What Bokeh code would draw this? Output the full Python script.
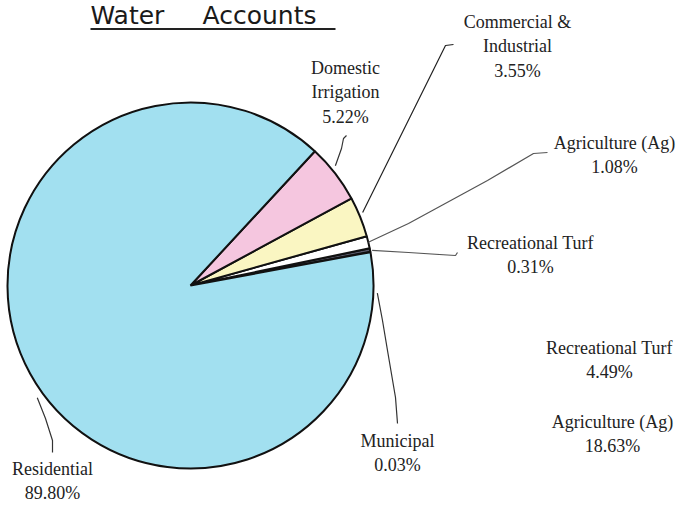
import math
from bokeh.plotting import figure
from bokeh.models import Range1d, ColumnDataSource
from bokeh.core.properties import value
from bokeh.embed import file_html
from bokeh.resources import INLINE

# ---------------- data ----------------
categories = ["Municipal", "Recreational Turf", "Agriculture (Ag)",
              "Commercial & Industrial", "Domestic Irrigation", "Residential"]
shares = [0.03, 0.31, 1.08, 3.55, 5.22, 89.80]
pct_labels = ["0.03%", "0.31%", "1.08%", "3.55%", "5.22%", "89.80%"]
label_lines = [["Municipal"], ["Recreational Turf"], ["Agriculture (Ag)"],
               ["Commercial &", "Industrial"], ["Domestic", "Irrigation"], ["Residential"]]
title_words = ["Water", "Accounts"]
# labels of a neighbouring chart at the right edge
other_categories = ["Recreational Turf", "Agriculture (Ag)"]
other_pct_labels = ["4.49%", "18.63%"]

# ---------------- style / layout ----------------
W, H = 680, 506
colors = ["#5a5a6a", "#5a5a6a", "#ffffff", "#faf6c2", "#f5c6df", "#a2e0f0"]
CX, CY, R = 190, H - 285, 183
START = math.radians(10.5)

def py(y):  # pixel-from-top -> data y
    return H - y

p = figure(width=W, height=H, x_range=Range1d(0, W), y_range=Range1d(0, H),
           output_backend="svg", toolbar_location=None,
           x_axis_location=None, y_axis_location=None, min_border=0)
p.grid.visible = False
p.outline_line_color = None
p.background_fill_color = "white"
p.border_fill_color = "white"

# wedges
total = sum(shares)
starts, ends = [], []
a = START
for s in shares:
    starts.append(a)
    a += s / total * 2 * math.pi
    ends.append(a)
src = ColumnDataSource(dict(cat=categories, start=starts, end=ends, color=colors))
p.wedge(x=CX, y=CY, radius=R, start_angle="start", end_angle="end",
        fill_color="color", line_color="#111111", line_width=2, source=src)

# leader lines: anchor on the pie from slice angle (+ layout offset), then bends
anchor_offset_deg = [-12.9, -0.2, 0.0, 1.0, 1.8, 7.4]
anchor_r = [187, 185, 183, 187, 188, 190]
bends = [
    [(382, 320), (387, 350), (395, 397), (397, 423)],
    [(408, 252), (455, 255), (457, 252)],
    [(408, 223), (487, 180), (533, 153), (547, 152)],
    [(445, 45), (453, 44)],
    [(341, 148), (343, 138), (346, 135)],
    [(45, 418), (52, 440), (52, 452)],
]
leader_colors = ["#333333", "#555555", "#555555", "#222222", "#333333", "#333333"]
for i in range(len(categories)):
    mid = (starts[i] + ends[i]) / 2 + math.radians(anchor_offset_deg[i])
    ax = CX + anchor_r[i] * math.cos(mid)
    ay = CY + anchor_r[i] * math.sin(mid)
    xs = [ax] + [b[0] for b in bends[i]]
    ys = [ay] + [py(b[1]) for b in bends[i]]
    p.line(xs, ys, line_color=leader_colors[i], line_width=1.2)

# slice labels
label_pos = [(397, 440), (530, 242), (614, 142), (517, 21), (345, 67), (52, 468)]
LINE_H = 24.5
tx, ty, tt = [], [], []
for i in range(len(categories)):
    x0, y0 = label_pos[i]
    lines = label_lines[i] + [pct_labels[i]]
    for k, t in enumerate(lines):
        tx.append(x0)
        ty.append(py(y0 + k * LINE_H))
        tt.append(t)
other_pos = [(609, 347), (612, 421)]
for i in range(len(other_categories)):
    x0, y0 = other_pos[i]
    for k, t in enumerate([other_categories[i], other_pct_labels[i]]):
        tx.append(x0)
        ty.append(py(y0 + k * LINE_H))
        tt.append(t)
p.text(x=tx, y=ty, text=tt, text_align="center", text_baseline="middle",
       text_font=value("Liberation Serif"), text_font_size="18px", text_color="#222222")

# title
p.text(x=[90, 202], y=[py(15), py(15)], text=title_words, text_align="left",
       text_baseline="middle", text_font=value("DejaVu Sans"),
       text_font_size="25px", text_color="#1a1a1a")
p.line([90, 335], [py(28.5), py(28.5)], line_color="#222222", line_width=2)

open("out.html", "w").write(file_html(p, INLINE))
